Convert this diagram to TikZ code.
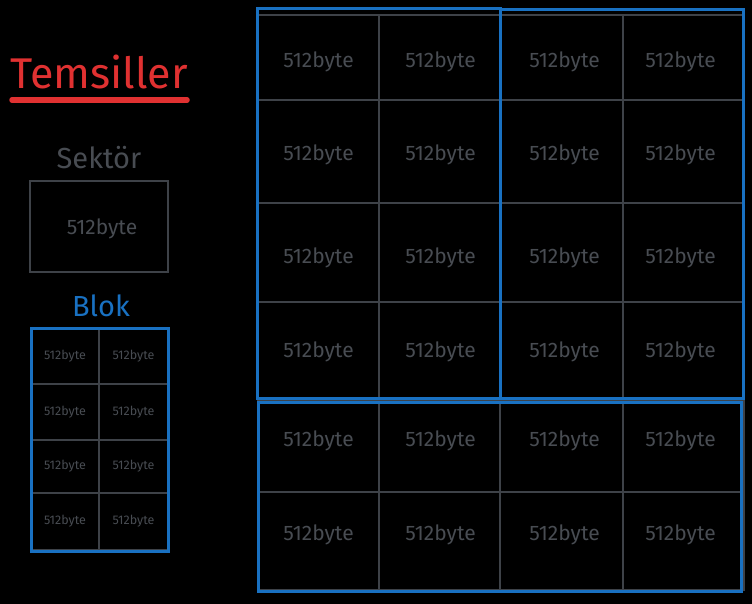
\documentclass[tikz,border=0pt]{standalone}
\usepackage{fontspec}
\setmainfont{Fira Sans}
\definecolor{ink}{RGB}{62,66,72}
\definecolor{inktext}{RGB}{72,76,82}
\definecolor{exblue}{RGB}{25,113,194}
\definecolor{exred}{RGB}{224,49,49}
\begin{document}
\begin{tikzpicture}[x=1pt,y=-1pt,
  cell/.style={draw=ink,line width=2.2pt,rectangle,inner sep=0pt,text=inktext,font=\fontsize{21}{21}\selectfont},
  celltext/.style={inner sep=0pt,text=inktext,font=\fontsize{21}{21}\selectfont},
  smallcell/.style={draw=ink,line width=2.4pt,rectangle,inner sep=0pt,text=inktext,font=\fontsize{12.5}{12.5}\selectfont},
  blockbox/.style={draw=exblue,line width=3pt},
  title/.style={text=exred,font=\fontsize{43}{43}\selectfont},
  label/.style={font=\fontsize{29}{29}\selectfont}]
\fill[black] (0,0) rectangle (752,604);
\useasboundingbox (0,0) rectangle (752,604);
% title
\node[title] (title) at (99,72) {Temsiller};
\draw[exred,line width=5.5pt,line cap=round] (12,100) -- (187,100);
% sector
\node[label,text=inktext] (sektorlbl) at (99,158) {Sektör};
\node[cell,minimum width=138pt,minimum height=91pt] (sektor) at (99,226.5) {};
\node[celltext] (sektortext) at ([xshift=3pt,yshift=-2pt]sektor.center) {512byte};
% block
\node[label,text=exblue] (bloklbl) at (101,306) {Blok};
\foreach \r/\ya/\yb in {1/328/384,2/384/440,3/440/493,4/493/550}{
  \node[smallcell,minimum width=68pt,minimum height={(\yb-\ya)*1pt}] (s-\r-1) at (65,{(\ya+\yb)/2}) {512byte};
  \node[smallcell,minimum width=69pt,minimum height={(\yb-\ya)*1pt}] (s-\r-2) at (133.5,{(\ya+\yb)/2}) {512byte};
}
\draw[blockbox] (31,328) rectangle (168,551);
% big grid
\foreach \r/\ya/\yb/\off in {1/15/100/4.5,2/100/203/3.5,3/203/302/5.5,4/302/400/1,5/400/492/-5,6/492/590/-6}{
  \foreach \c/\xa/\xb/\dx in {1/258/379/0,2/379/500/1,3/500/623/3,4/623/744/-3}{
    \node[cell,minimum width={(\xb-\xa)*1pt},minimum height={(\yb-\ya)*1pt}] (c-\r-\c) at ({(\xa+\xb)/2},{(\ya+\yb)/2}) {};
    \node[celltext] (t-\r-\c) at ([xshift=\dx pt,yshift=-\off pt]c-\r-\c.center) {512byte};
  }
}
\draw[blockbox] (257,9) rectangle (500,398);
\draw[blockbox] (500,10) rectangle (743,398);
\draw[blockbox] (258,402) rectangle (741,591);
\end{tikzpicture}
\end{document}
